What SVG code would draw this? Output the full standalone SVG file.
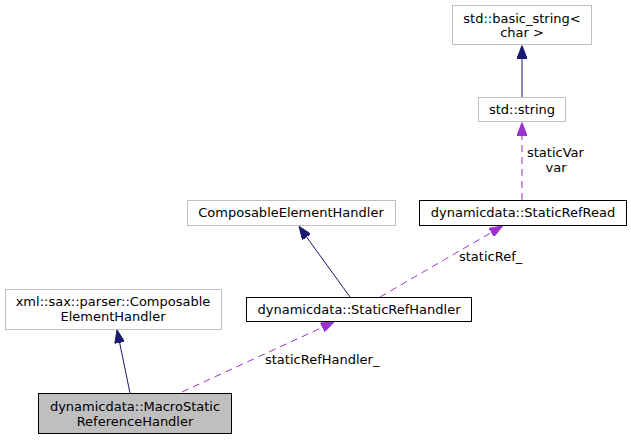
<svg xmlns="http://www.w3.org/2000/svg" width="631" height="440" viewBox="0 0 631 440">
  <style>
    .node text { font-family: "DejaVu Sans", "Liberation Sans", sans-serif; font-size: 13px; fill: #000; text-anchor: middle; }
    .ext rect { fill: #fff; stroke: #bfbfbf; stroke-width: 1; }
    .cls rect { fill: #fff; stroke: #000; stroke-width: 1; }
    .focus rect { fill: #bfbfbf; stroke: #000; stroke-width: 1; }
    .inherit { fill: none; stroke: #191970; stroke-width: 1; marker-end: url(#arrowNavy); }
    .usage { fill: none; stroke: #9a32cd; stroke-width: 1; stroke-dasharray: 7 5; marker-end: url(#arrowPurple); }
    .elabel { font-family: "DejaVu Sans", "Liberation Sans", sans-serif; font-size: 13px; fill: #000; }
  </style>
  <defs>
    <marker id="arrowNavy" viewBox="0 0 13 10" refX="13" refY="5" markerWidth="13" markerHeight="10" markerUnits="userSpaceOnUse" orient="auto">
      <path d="M0,0 L13,5 L0,10 z" fill="#191970" stroke="#191970"/>
    </marker>
    <marker id="arrowPurple" viewBox="0 0 13 10" refX="13" refY="5" markerWidth="13" markerHeight="10" markerUnits="userSpaceOnUse" orient="auto">
      <path d="M0,0 L13,5 L0,10 z" fill="#9a32cd" stroke="#9a32cd"/>
    </marker>
  </defs>
  <rect width="631" height="440" fill="#fff"/>

  <!-- connectors -->
  <g id="edges">
    <path class="inherit" d="M522,97 L522,45.5"/>
    <path class="usage" d="M522,200 L522,122.5"/>
    <text class="elabel" x="527" y="157">staticVar</text>
    <text class="elabel" x="556" y="172" text-anchor="middle">var</text>
    <path class="inherit" d="M350,297 L299,226.5"/>
    <path class="usage" d="M380,297 L502.5,226"/>
    <text class="elabel" x="459" y="261">staticRef_</text>
    <path class="inherit" d="M130,393 L117,330"/>
    <path class="usage" d="M182,392 L334,322"/>
    <text class="elabel" x="265" y="364">staticRefHandler_</text>
  </g>

  <!-- nodes -->
  <g id="basic_string" class="node ext">
    <rect x="452.5" y="5.5" width="139" height="39"/>
    <text x="522" y="23">std::basic_string&lt;</text>
    <text x="522" y="37">char &gt;</text>
  </g>
  <g id="string" class="node ext">
    <rect x="478.5" y="97.5" width="87" height="24"/>
    <text x="522" y="114">std::string</text>
  </g>
  <g id="StaticRefRead" class="node cls">
    <rect x="419.5" y="200.5" width="207" height="25"/>
    <text x="523" y="217">dynamicdata::StaticRefRead</text>
  </g>
  <g id="ComposableElementHandler" class="node ext">
    <rect x="187.5" y="200.5" width="208" height="25"/>
    <text x="291" y="217">ComposableElementHandler</text>
  </g>
  <g id="StaticRefHandler" class="node cls">
    <rect x="246.5" y="297.5" width="225" height="24"/>
    <text x="359" y="314">dynamicdata::StaticRefHandler</text>
  </g>
  <g id="SaxComposableElementHandler" class="node ext">
    <rect x="5.5" y="289.5" width="216" height="40"/>
    <text x="113" y="306">xml::sax::parser::Composable</text>
    <text x="113" y="321">ElementHandler</text>
  </g>
  <g id="MacroStaticReferenceHandler" class="node focus">
    <rect x="38.5" y="393.5" width="193" height="40"/>
    <text x="135" y="411">dynamicdata::MacroStatic</text>
    <text x="135" y="426">ReferenceHandler</text>
  </g>
</svg>
